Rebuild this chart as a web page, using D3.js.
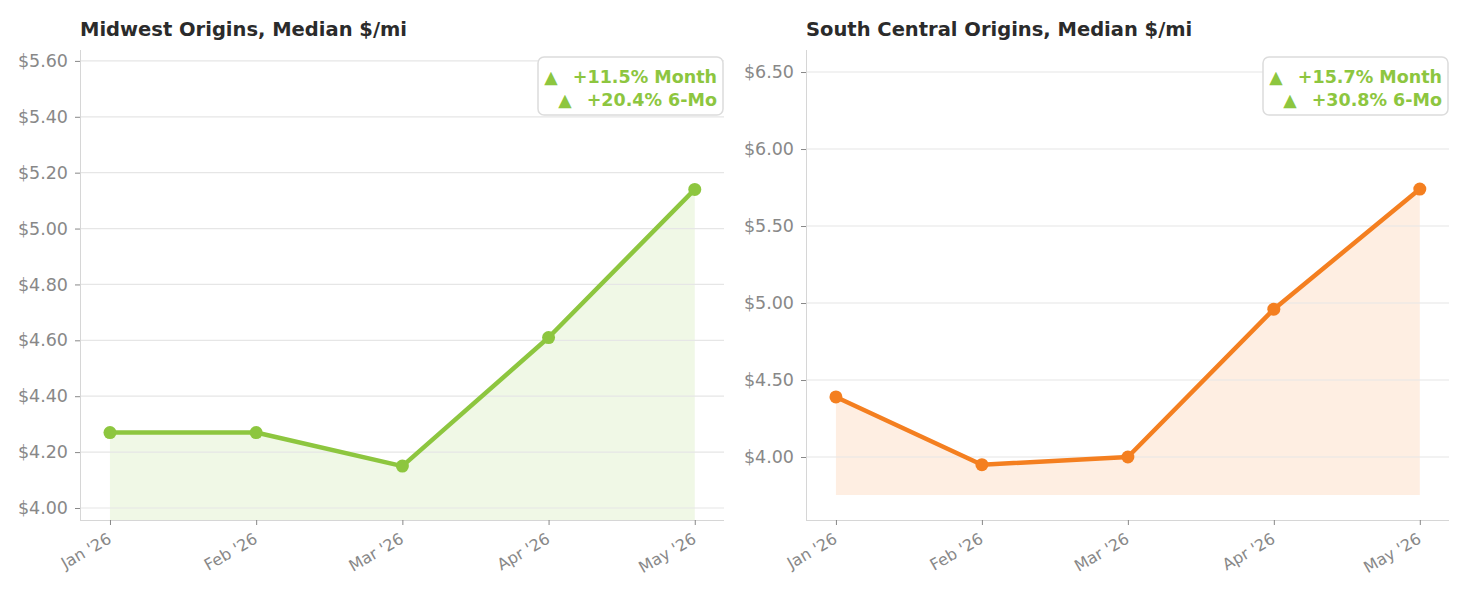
<!DOCTYPE html>
<html>
<head>
<meta charset="utf-8">
<script src="https://cdn.jsdelivr.net/npm/d3@7"></script>
<style>
  body { margin: 0; background: #fff; }
  svg { font-family: "DejaVu Sans", sans-serif; }
</style>
</head>
<body>
<div id="chart"></div>
<script>
// months shared by both panels
let months = ["Jan '26", "Feb '26", "Mar '26", "Apr '26", "May '26"];

// median $/mi
let midwestVals = [4.27, 4.27, 4.15, 4.61, 5.14];
let southVals = [4.39, 3.95, 4.00, 4.96, 5.74];

let midwestTicks = [4.0, 4.2, 4.4, 4.6, 4.8, 5.0, 5.2, 5.4, 5.6];
let southTicks = [4.0, 4.5, 5.0, 5.5, 6.0, 6.5];

let midwestBadge = ["+11.5% Month", "+20.4% 6-Mo"];
let southBadge = ["+15.7% Month", "+30.8% 6-Mo"];

let w = 1463;
let h = 598;

let viz = d3.select("#chart")
  .append("svg")
    .attr("width", w)
    .attr("height", h);

function panel(opts) {
  let g = viz.append("g");

  let x = d3.scaleLinear()
    .domain([-0.205, months.length - 1 + 0.2])
    .range([opts.left, opts.right]);

  let y = d3.scaleLinear()
    .domain(opts.ydom)
    .range([520, 50]);

  // title
  g.append("text")
    .attr("x", opts.left)
    .attr("y", 36)
    .style("font-size", "19.5px")
    .attr("font-weight", "bold")
    .attr("fill", "#2b2b2b")
    .text(opts.title);

  // fill under the line
  let area = d3.area()
    .x((d, i) => x(i))
    .y0(y(opts.base))
    .y1(d => y(d));

  let clipId = "clip" + opts.left;
  g.append("clipPath").attr("id", clipId)
    .append("rect")
      .attr("x", opts.left).attr("y", 50)
      .attr("width", opts.right - opts.left).attr("height", 470);

  g.append("path")
    .attr("d", area(opts.vals))
    .attr("fill", opts.color)
    .attr("fill-opacity", 0.13)
    .attr("clip-path", "url(#" + clipId + ")");

  // grid
  g.append("g")
    .selectAll("line")
    .data(opts.ticks)
    .join("line")
      .attr("x1", opts.left)
      .attr("x2", opts.right)
      .attr("y1", d => y(d))
      .attr("y2", d => y(d))
      .attr("stroke", "#e6e6e6")
      .attr("stroke-width", 1.2);

  // y axis
  let yAxis = g.append("g")
    .attr("transform", "translate(" + opts.left + ",0)")
    .call(d3.axisLeft(y).tickValues(opts.ticks).tickSize(5).tickPadding(7)
      .tickFormat(d => "$" + d.toFixed(2)));
  yAxis.select(".domain").attr("stroke", "#d6d6d6").attr("d", "M0.5,50V520.5");
  yAxis.selectAll(".tick line").attr("stroke", "#888");
  yAxis.selectAll(".tick text")
    .attr("fill", "#888")
    .style("font-size", "17.5px")
    .style("font-family", "DejaVu Sans");

  // x axis
  let xAxis = g.append("g")
    .attr("transform", "translate(0,520)")
    .call(d3.axisBottom(x).tickValues(d3.range(months.length)).tickSize(5)
      .tickFormat(i => months[i]));
  xAxis.select(".domain").attr("stroke", "#d6d6d6").attr("d", "M" + opts.left + ",0.5H" + opts.right);
  xAxis.selectAll(".tick line").attr("stroke", "#888");
  xAxis.selectAll(".tick text")
    .attr("fill", "#888")
    .style("font-size", "16px")
    .style("font-family", "DejaVu Sans")
    .attr("text-anchor", "end")
    .attr("dy", null)
    .attr("y", 0)
    .attr("transform", "translate(2,22) rotate(-30)");

  // line
  let line = d3.line()
    .x((d, i) => x(i))
    .y(d => y(d));

  g.append("path")
    .attr("d", line(opts.vals))
    .attr("fill", "none")
    .attr("stroke", opts.color)
    .attr("stroke-width", 4.5)
    .attr("stroke-linejoin", "round");

  g.selectAll("circle.pt")
    .data(opts.vals)
    .join("circle")
      .attr("class", "pt")
      .attr("cx", (d, i) => x(i))
      .attr("cy", d => y(d))
      .attr("r", 6.5)
      .attr("fill", opts.color);

  // change badge
  let bx = opts.right - 1;
  g.append("rect")
    .attr("x", bx - 185)
    .attr("y", 57)
    .attr("width", 185)
    .attr("height", 58)
    .attr("rx", 6)
    .attr("fill", "#fff")
    .attr("stroke", "#dcdcdc")
    .attr("stroke-width", 1.5);

  opts.badge.forEach(function(t, i) {
    let txt = g.append("text")
      .attr("x", bx - 6)
      .attr("y", 83 + i * 23)
      .attr("text-anchor", "end")
      .style("font-size", "17.5px")
      .attr("font-weight", "bold")
      .style("font-family", "DejaVu Sans")
      .attr("fill", "#8dc63f");
    txt.append("tspan").text("\u25B2");
    txt.append("tspan").attr("dx", 15).text(t);
  });
}

panel({
  title: "Midwest Origins, Median $/mi",
  left: 80, right: 724,
  ydom: [3.957, 5.639],
  base: 3.94,
  vals: midwestVals,
  ticks: midwestTicks,
  badge: midwestBadge,
  color: "#8dc63f"
});

panel({
  title: "South Central Origins, Median $/mi",
  left: 806, right: 1449,
  ydom: [3.591, 6.643],
  base: 3.753,
  vals: southVals,
  ticks: southTicks,
  badge: southBadge,
  color: "#f47f20"
});
</script>
</body>
</html>
